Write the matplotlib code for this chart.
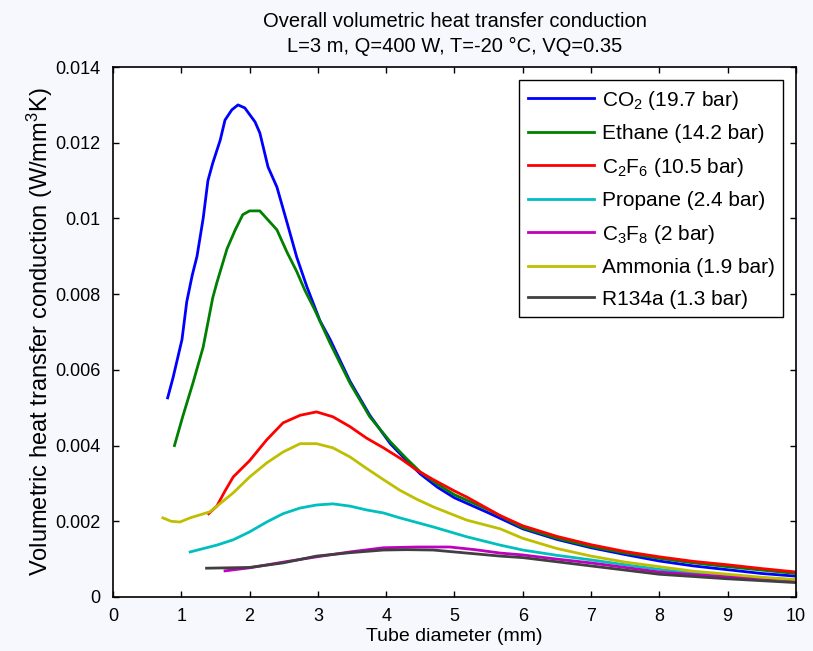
import numpy as np
import matplotlib
matplotlib.use("Agg")
import matplotlib.pyplot as plt
from matplotlib.ticker import FuncFormatter

plt.rcParams['font.family'] = ['Liberation Sans', 'DejaVu Sans']
plt.rcParams['mathtext.fontset'] = 'custom'
plt.rcParams['mathtext.rm'] = 'Liberation Sans'
plt.rcParams['mathtext.it'] = 'Liberation Sans'
plt.rcParams['mathtext.default'] = 'regular'

# Datos (diametro en mm, conductancia en W/mm3K)
co2_x = [0.80, 0.88, 1.01, 1.08, 1.16, 1.23, 1.32, 1.39, 1.46, 1.57, 1.64, 1.74,
         1.83, 1.93, 2.08, 2.15, 2.27, 2.40, 2.55, 2.69, 2.84, 3.03, 3.18, 3.47,
         3.76, 4.06, 4.30, 4.50, 4.75, 5.00, 5.50, 6.00, 6.50, 7.00, 7.50, 8.00,
         8.50, 9.00, 9.50, 10.0]
co2_y = [0.00526, 0.0058, 0.0068, 0.0078, 0.0085, 0.0090, 0.0100, 0.0110, 0.01146,
         0.01207, 0.0126, 0.01287, 0.0130, 0.01292, 0.01255, 0.01226, 0.01136,
         0.01083, 0.00988, 0.00898, 0.00819, 0.0073, 0.0068, 0.0057, 0.0048,
         0.00405, 0.0036, 0.00325, 0.0029, 0.00262, 0.00222, 0.00180, 0.00152,
         0.00130, 0.00112, 0.00095, 0.00082, 0.00072, 0.00062, 0.00055]

ethane_x = [0.90, 1.02, 1.17, 1.32, 1.46, 1.52, 1.67, 1.79, 1.90, 2.00, 2.08, 2.15,
            2.25, 2.40, 2.55, 2.69, 2.81, 2.95, 3.18, 3.47, 3.76, 4.06, 4.30, 4.50,
            4.75, 5.00, 5.50, 6.00, 6.50, 7.00, 7.50, 8.00, 8.50, 9.00, 9.50, 10.0]
ethane_y = [0.0040, 0.00476, 0.00565, 0.0066, 0.0079, 0.0083, 0.0092, 0.0097,
            0.0101, 0.0102, 0.0102, 0.0102, 0.0100, 0.0097, 0.0091, 0.0086, 0.0081,
            0.0076, 0.0067, 0.00565, 0.00476, 0.0041, 0.00365, 0.0033, 0.00298,
            0.0027, 0.0023, 0.00183, 0.00155, 0.00133, 0.00116, 0.00102, 0.00090,
            0.00080, 0.00071, 0.00062]

c2f6_x = [1.40, 1.52, 1.64, 1.76, 2.00, 2.25, 2.49, 2.74, 2.98, 3.22, 3.47, 3.71,
          3.96, 4.20, 4.45, 4.69, 5.00, 5.18, 5.67, 6.00, 6.50, 7.00, 7.50, 8.00,
          8.50, 9.00, 9.50, 10.0]
c2f6_y = [0.0022, 0.0024, 0.0028, 0.00317, 0.0036, 0.00415, 0.0046, 0.0048,
          0.00489, 0.00476, 0.0045, 0.0042, 0.00394, 0.00367, 0.00335, 0.0031,
          0.0028, 0.00264, 0.00215, 0.00188, 0.00160, 0.00138, 0.00120, 0.00106,
          0.00094, 0.00085, 0.00075, 0.00066]

propane_x = [1.13, 1.52, 1.76, 2.00, 2.25, 2.49, 2.74, 2.98, 3.22, 3.47, 3.71,
             3.96, 4.20, 4.69, 5.18, 5.67, 6.00, 6.50, 7.00, 7.50, 8.00, 8.50,
             9.00, 9.50, 10.0]
propane_y = [0.00119, 0.00137, 0.00151, 0.00172, 0.00198, 0.00220, 0.00235,
             0.00243, 0.00246, 0.0024, 0.0023, 0.00222, 0.00209, 0.00185, 0.00159,
             0.00137, 0.00124, 0.00110, 0.00098, 0.00085, 0.00073, 0.00063,
             0.00055, 0.00050, 0.00045]

c3f8_x = [1.64, 2.00, 2.49, 2.98, 3.47, 3.96, 4.45, 4.93, 5.30, 5.67, 6.00, 6.50,
          7.00, 7.50, 8.00, 8.50, 9.00, 9.50, 10.0]
c3f8_y = [0.00069, 0.00077, 0.00092, 0.00106, 0.00119, 0.0013, 0.00132, 0.00132,
          0.00125, 0.00116, 0.00111, 0.00100, 0.00090, 0.00078, 0.00066, 0.00059,
          0.00053, 0.00049, 0.00045]

ammonia_x = [0.73, 0.85, 0.98, 1.13, 1.42, 1.76, 2.00, 2.25, 2.49, 2.74, 2.98,
             3.22, 3.47, 3.71, 3.96, 4.20, 4.45, 4.69, 5.18, 5.67, 6.00, 6.50,
             7.00, 7.50, 8.00, 8.50, 9.00, 9.50, 10.0]
ammonia_y = [0.00209, 0.0020, 0.00198, 0.00209, 0.00225, 0.00275, 0.00317,
             0.00354, 0.00383, 0.00405, 0.00405, 0.00394, 0.0037, 0.0034, 0.0031,
             0.00282, 0.00258, 0.00238, 0.00203, 0.00180, 0.00155, 0.00128,
             0.00108, 0.00092, 0.00080, 0.00068, 0.00060, 0.00052, 0.00046]

r134a_x = [1.37, 2.00, 2.49, 2.98, 3.47, 3.96, 4.30, 4.69, 5.18, 5.67, 6.00, 6.50,
           7.00, 7.50, 8.00, 8.50, 9.00, 9.50, 10.0]
r134a_y = [0.00076, 0.00078, 0.0009, 0.00108, 0.00117, 0.00124, 0.00125, 0.00124,
           0.00116, 0.00108, 0.00104, 0.00093, 0.00082, 0.00071, 0.00060, 0.00054,
           0.00048, 0.00043, 0.00038]

series = [
    (co2_x, co2_y, 'CO$_2$ (19.7 bar)', '#0000ff'),
    (ethane_x, ethane_y, 'Ethane (14.2 bar)', '#008000'),
    (c2f6_x, c2f6_y, 'C$_2$F$_6$ (10.5 bar)', '#ff0000'),
    (propane_x, propane_y, 'Propane (2.4 bar)', '#00bfbf'),
    (c3f8_x, c3f8_y, 'C$_3$F$_8$ (2 bar)', '#bf00bf'),
    (ammonia_x, ammonia_y, 'Ammonia (1.9 bar)', '#bfbf00'),
    (r134a_x, r134a_y, 'R134a (1.3 bar)', '#404040'),
]

fig = plt.figure(figsize=(8.13, 6.51), dpi=100, facecolor='#f6f8fd')
ax = fig.add_axes([0.139, 0.083, 0.840, 0.814])

for x, y, lab, col in series:
    ax.plot(x, y, color=col, lw=2.0, label=lab)

ax.set_xlim(0, 10)
ax.set_ylim(0, 0.014)
ax.set_xticks(np.arange(0, 11, 1))
ax.set_yticks(np.arange(0, 0.0141, 0.002))
ax.yaxis.set_major_formatter(FuncFormatter(lambda v, p: '0' if abs(v) < 1e-12 else '%g' % v))
ax.tick_params(direction='in', top=True, right=True, length=4, width=1, labelsize=13)
ax.tick_params(axis='x', pad=8)
ax.tick_params(axis='y', pad=9)
for s in ax.spines.values():
    s.set_linewidth(1.2)

ax.set_xlabel('Tube diameter (mm)', fontsize=14, labelpad=2)
ax.set_ylabel('Volumetric heat transfer conduction (W/mm$^3$K)', fontsize=17, labelpad=0)
ax.set_title('Overall volumetric heat transfer conduction\nL=3 m, Q=400 W, T=-20 °C, VQ=0.35',
             fontsize=14.5, pad=11, linespacing=1.4)

leg = ax.legend(loc='upper right', bbox_to_anchor=(0.981, 0.975), borderaxespad=0,
                fontsize=15, handlelength=3.2, handletextpad=0.35, labelspacing=0.6,
                fancybox=False, framealpha=1, edgecolor='black', borderpad=0.4)
leg.get_frame().set_linewidth(1.0)

fig.savefig('out.png', dpi=100, facecolor=fig.get_facecolor())
